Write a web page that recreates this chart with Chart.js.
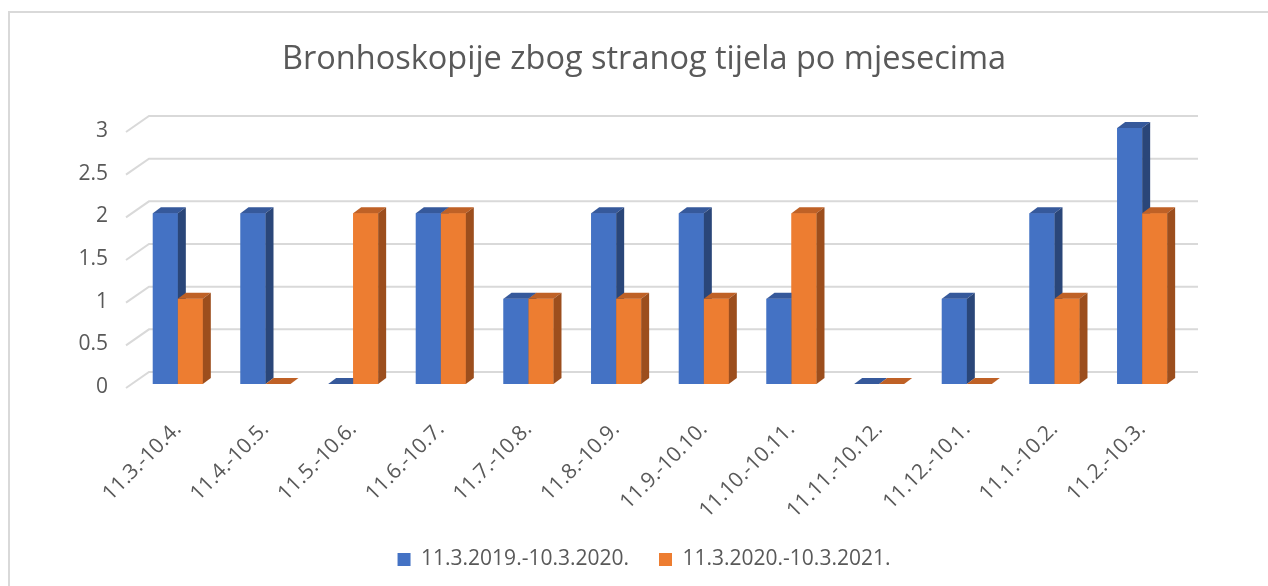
<!DOCTYPE html>
<html>
<head>
<meta charset="utf-8">
<script src="https://cdn.jsdelivr.net/npm/chart.js@4/dist/chart.umd.min.js"></script>
<style>
  html, body { margin: 0; padding: 0; background: #fff; }
  #wrap { width: 1268px; height: 586px; }
</style>
</head>
<body>
<div id="wrap"><canvas id="chart"></canvas></div>
<script>
const categories = ['11.3.-10.4.', '11.4.-10.5.', '11.5.-10.6.', '11.6.-10.7.', '11.7.-10.8.', '11.8.-10.9.',
  '11.9.-10.10.', '11.10.-10.11.', '11.11.-10.12.', '11.12.-10.1.', '11.1.-10.2.', '11.2.-10.3.'];
const seriesNames = ['11.3.2019.-10.3.2020.', '11.3.2020.-10.3.2021.'];
const period2019 = [2, 2, 0, 2, 1, 2, 2, 1, 0, 1, 2, 3];
const period2020 = [1, 0, 2, 2, 1, 1, 1, 2, 0, 0, 1, 2];
const yTicks = [0, 0.5, 1, 1.5, 2, 2.5, 3];

const TEXT = '#595959';
const FONT = "'Open Sans', sans-serif";
const DX = 8, DY = -6;

// light frame around the chart (only left/top edges visible)
const framePlugin = {
  id: 'frame',
  beforeDraw(chart) {
    const ctx = chart.ctx;
    ctx.save();
    ctx.fillStyle = '#fff';
    ctx.fillRect(0, 0, chart.width, chart.height);
    ctx.strokeStyle = '#d9d9d9';
    ctx.lineWidth = 2;
    ctx.beginPath();
    ctx.moveTo(9, chart.height);
    ctx.lineTo(9, 12);
    ctx.lineTo(chart.width, 12);
    ctx.stroke();
    ctx.restore();
  }
};

// back wall gridlines with the floor diagonal
const gridPlugin = {
  id: 'grid3d',
  beforeDatasetsDraw(chart) {
    const ctx = chart.ctx, y = chart.scales.y, a = chart.chartArea;
    ctx.save();
    ctx.strokeStyle = '#d9d9d9';
    ctx.lineWidth = 2;
    y.ticks.forEach(t => {
      const py = y.getPixelForValue(t.value);
      ctx.beginPath();
      ctx.moveTo(a.left - 8, py + 4);
      ctx.lineTo(a.left + 15, py - 12);
      ctx.lineTo(a.right + 12, py - 12);
      ctx.stroke();
    });
    ctx.restore();
  }
};

// 3D boxes: front, top and side for each bar, category by category
const boxPlugin = {
  id: 'box3d',
  afterDatasetsDraw(chart) {
    const ctx = chart.ctx;
    const poly = (pts, c) => {
      ctx.fillStyle = c;
      ctx.beginPath();
      pts.forEach((p, k) => k ? ctx.lineTo(p[0], p[1]) : ctx.moveTo(p[0], p[1]));
      ctx.closePath();
      ctx.fill();
    };
    ctx.save();
    for (let i = 0; i < chart.data.labels.length; i++) {
      chart.data.datasets.forEach((ds, d) => {
        const bar = chart.getDatasetMeta(d).data[i];
        const { x, y, base, width } = bar.getProps(['x', 'y', 'base', 'width'], true);
        const x0 = x - width / 2, x1 = x + width / 2;
        if (base - y > 0) poly([[x0, y], [x1, y], [x1, base], [x0, base]], ds.backgroundColor);
        poly([[x0, y], [x1, y], [x1 + DX, y + DY], [x0 + DX, y + DY]], ds.topColor);
        poly([[x1, y], [x1 + DX, y + DY], [x1 + DX, base + DY], [x1, base]], ds.sideColor);
      });
    }
    ctx.restore();
  }
};

new Chart(document.getElementById('chart').getContext('2d'), {
  type: 'bar',
  data: {
    labels: categories,
    datasets: [{
      label: seriesNames[0],
      data: period2019,
      backgroundColor: '#4472c4',
      topColor: '#36599b',
      sideColor: '#2a4679',
      categoryPercentage: 0.57,
      barPercentage: 1
    }, {
      label: seriesNames[1],
      data: period2020,
      backgroundColor: '#ed7d31',
      topColor: '#bf6126',
      sideColor: '#9c4e1d',
      categoryPercentage: 0.57,
      barPercentage: 1
    }]
  },
  options: {
    responsive: true,
    maintainAspectRatio: false,
    animation: false,
    layout: { padding: { top: 18, left: 20, right: 0, bottom: 6 } },
    plugins: {
      title: {
        display: true,
        text: 'Bronhoskopije zbog stranog tijela po mjesecima',
        color: TEXT,
        font: { family: FONT, size: 32.5, weight: 'normal' },
        padding: { top: 22, bottom: 49 }
      },
      legend: {
        position: 'bottom',
        labels: {
          color: TEXT,
          font: { family: FONT, size: 21 },
          boxWidth: 13,
          boxHeight: 13,
          padding: 30
        }
      },
      tooltip: { enabled: false }
    },
    scales: {
      x: {
        grid: { display: false, drawTicks: false },
        border: { display: false },
        ticks: { color: TEXT, font: { family: FONT, size: 21 }, minRotation: 45, maxRotation: 45, padding: 33 },
        afterFit: s => { s.height = 135; }
      },
      y: {
        min: 0,
        max: 3,
        afterBuildTicks: s => { s.ticks = yTicks.map(v => ({ value: v })); },
        grid: { display: false, drawTicks: false },
        border: { display: false },
        ticks: { color: TEXT, font: { family: FONT, size: 21 }, padding: 26, labelOffset: 3, callback: v => String(v) },
        afterFit: s => { s.width = 114; }
      },
      yRight: {
        position: 'right',
        display: true,
        grid: { display: false, drawTicks: false },
        border: { display: false },
        ticks: { display: false },
        afterFit: s => { s.width = 82; }
      }
    }
  },
  plugins: [framePlugin, gridPlugin, boxPlugin]
});
</script>
</body>
</html>
